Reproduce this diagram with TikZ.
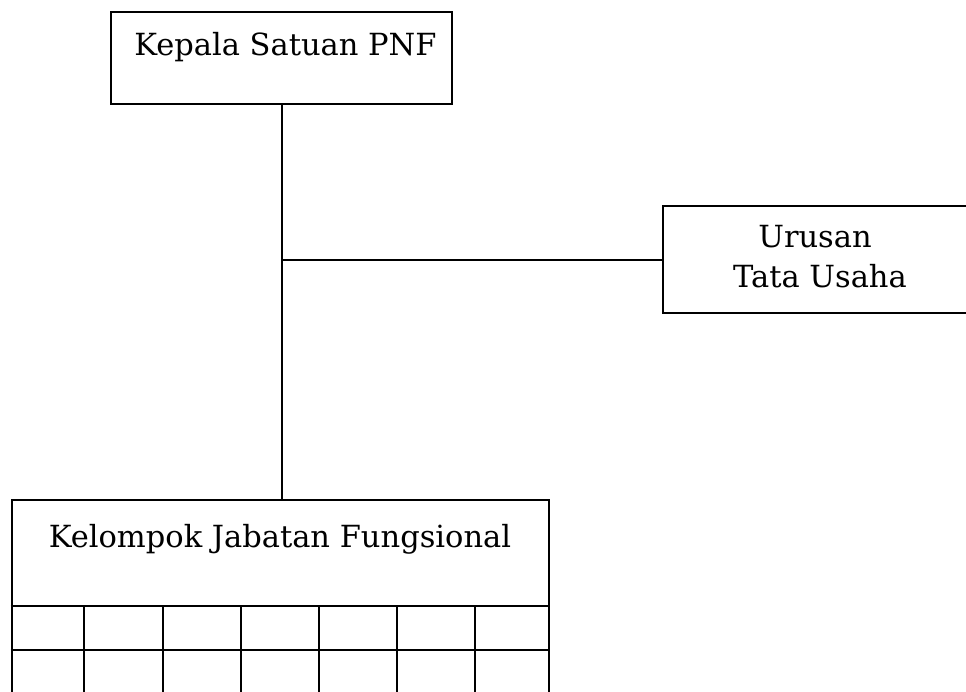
\documentclass[tikz,border=0pt]{standalone}
\usepackage{fontspec}
\setmainfont{DejaVu Serif}
\begin{document}
\begin{tikzpicture}[x=1pt,y=-1pt,
  box/.style={draw, line width=2pt, rectangle, inner sep=0pt},
  txt/.style={font=\fontsize{30.5}{36}\selectfont, inner sep=0pt, anchor=base},
  con/.style={line width=2pt}]
\clip (0,0) rectangle (966,691);
% boxes
\node[box, minimum width=341pt, minimum height=92pt] (kepala) at (281.5,58) {};
\node[box, minimum width=337pt, minimum height=107pt] (urusan) at (831.5,259.5) {};
\node[box, minimum width=537pt, minimum height=220pt] (kjf) at (280,610) {};
% texts
\node[txt] (tkepala) at (285.5,55) {Kepala Satuan PNF};
\node[txt] (turusan1) at (815,247) {Urusan};
\node[txt] (turusan2) at (820,287) {Tata Usaha};
\node[txt] (tkjf) at (280,547) {Kelompok Jabatan Fungsional};
% connectors
\coordinate (jn) at (kepala.south |- urusan.west);
\draw[con] (kepala.south) -- (kepala.south |- kjf.north);
\draw[con] (jn) -- (urusan.west);
% grid in the lower box
\coordinate (r1) at (0,606);
\coordinate (r2) at (0,650);
\draw[con] (kjf.west |- r1) -- (kjf.east |- r1);
\draw[con] (kjf.west |- r2) -- (kjf.east |- r2);
\foreach \x in {84,162.5,240.5,318.5,396.5,474.7}
  \draw[con] (\x,606) -- (\x,700);
\end{tikzpicture}
\end{document}
